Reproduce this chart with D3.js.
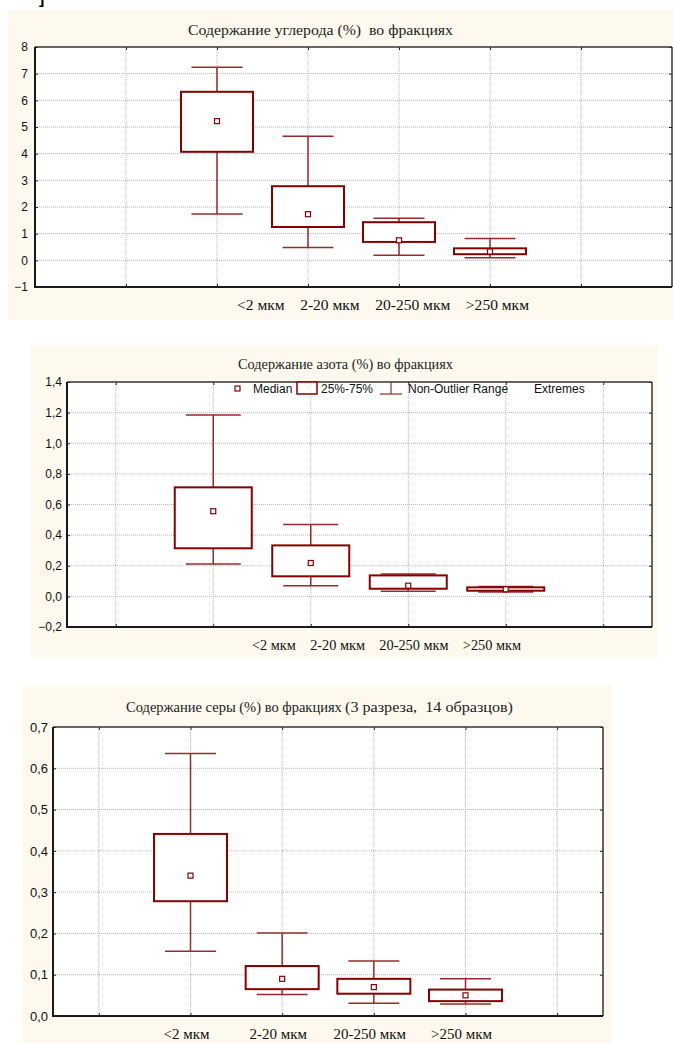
<!DOCTYPE html>
<html>
<head>
<meta charset="utf-8">
<script src="https://cdn.jsdelivr.net/npm/d3@7"></script>
<style>
  body { margin: 0; background: #fff; }
  text { white-space: pre; }
</style>
</head>
<body>
<script>
// fractions on the x axis
const categories = ["<2 мкм", "2-20 мкм", "20-250 мкм", ">250 мкм"];

// each row: low whisker, 25%, median, 75%, high whisker
const carbonStats = [
  [1.74, 4.07, 5.22, 6.32, 7.24],
  [0.48, 1.25, 1.73, 2.78, 4.65],
  [0.19, 0.69, 0.75, 1.43, 1.58],
  [0.10, 0.23, 0.33, 0.45, 0.82]
];
const nitrogenStats = [
  [0.212, 0.314, 0.556, 0.712, 1.185],
  [0.070, 0.131, 0.218, 0.333, 0.469],
  [0.033, 0.050, 0.070, 0.137, 0.146],
  [0.029, 0.037, 0.046, 0.059, 0.065]
];
const sulfurStats = [
  [0.157, 0.278, 0.340, 0.441, 0.636],
  [0.052, 0.065, 0.090, 0.121, 0.201],
  [0.031, 0.054, 0.070, 0.090, 0.133],
  [0.029, 0.036, 0.050, 0.064, 0.090]
];

const carbonTicks = [-1, 0, 1, 2, 3, 4, 5, 6, 7, 8];
const nitrogenTicks = [-0.2, 0, 0.2, 0.4, 0.6, 0.8, 1.0, 1.2, 1.4];
const sulfurTicks = [0, 0.1, 0.2, 0.3, 0.4, 0.5, 0.6, 0.7];

const legendItems = ["Median", "25%-75%", "Non-Outlier Range", "Extremes"];

const boxColor = "#860000";
const whiskColor = "#9a2a2a";
const panelColor = "#fdf9ee";
const serif = "Liberation Serif, Times New Roman";
const sans = "Liberation Sans, Arial";

const svg = d3.select("body").append("svg")
  .attr("width", 673)
  .attr("height", 1043);

// the cut off bracket at the very top
svg.append("text").attr("x", 39).attr("y", 4)
  .attr("font-family", sans).attr("font-size", 16).attr("font-weight", "bold")
  .text("]");

let commaFmt = function (digits) {
  let f = d3.format("." + digits + "f");
  return function (d) { return f(d).replace(".", ","); };
};

function drawBoxChart(o) {
  let g = svg.append("g");

  g.append("rect")
    .attr("x", o.panel[0]).attr("y", o.panel[1])
    .attr("width", o.panel[2]).attr("height", o.panel[3])
    .attr("fill", panelColor);

  let y = d3.scaleLinear()
    .domain([o.ticks[0], o.ticks[o.ticks.length - 1]])
    .range([o.bottom, o.top]);
  let x = d3.scaleLinear().domain(o.xDomain).range([o.left, o.right]);
  let gridX = d3.range(1, 7);

  g.append("rect")
    .attr("x", o.left).attr("y", o.top)
    .attr("width", o.right - o.left).attr("height", o.bottom - o.top)
    .attr("fill", "#fff");

  // dotted grid
  g.selectAll(".hgrid").data(o.ticks.slice(1, -1)).enter().append("line")
    .attr("class", "hgrid")
    .attr("x1", o.left).attr("x2", o.right)
    .attr("y1", d => y(d)).attr("y2", d => y(d))
    .attr("stroke", "#b8b8b8").attr("stroke-dasharray", "1,1");
  g.selectAll(".vgrid").data(gridX).enter().append("line")
    .attr("class", "vgrid")
    .attr("x1", d => x(d)).attr("x2", d => x(d))
    .attr("y1", o.top).attr("y2", o.bottom)
    .attr("stroke", "#b8b8b8").attr("stroke-dasharray", "1,1");

  // axes with small inward ticks
  let yAxis = d3.axisLeft(y).tickValues(o.ticks).tickSize(-3).tickPadding(o.pad).tickFormat(o.fmt);
  let ya = g.append("g").attr("transform", "translate(" + o.left + ",0)").call(yAxis);
  ya.select(".domain").remove();
  ya.selectAll("text").attr("font-family", sans).attr("font-size", o.tickSize).attr("fill", "#111");
  ya.selectAll("line").attr("stroke", "#222");

  let xa = g.append("g").attr("transform", "translate(0," + o.bottom + ")")
    .call(d3.axisBottom(x).tickValues(gridX).tickSize(-3).tickFormat(""));
  xa.select(".domain").remove();
  xa.selectAll("line").attr("stroke", "#222");

  let ra = g.append("g").attr("transform", "translate(" + o.right + ",0)")
    .call(d3.axisRight(y).tickValues(o.ticks).tickSize(-3).tickFormat(""));
  ra.select(".domain").remove();
  ra.selectAll("line").attr("stroke", "#222");

  let ta = g.append("g").attr("transform", "translate(0," + o.top + ")")
    .call(d3.axisTop(x).tickValues(gridX).tickSize(-3).tickFormat(""));
  ta.select(".domain").remove();
  ta.selectAll("line").attr("stroke", "#222");

  // frame: heavy left and bottom
  g.append("line").attr("x1", o.left).attr("x2", o.right).attr("y1", o.top).attr("y2", o.top)
    .attr("stroke", "#333").attr("stroke-width", 1.5);
  g.append("line").attr("x1", o.right).attr("x2", o.right).attr("y1", o.top).attr("y2", o.bottom)
    .attr("stroke", "#333").attr("stroke-width", 1.5);
  g.append("line").attr("x1", o.left).attr("x2", o.left).attr("y1", o.top).attr("y2", o.bottom + 1)
    .attr("stroke", "#1a1a1a").attr("stroke-width", 2);
  g.append("line").attr("x1", o.left).attr("x2", o.right).attr("y1", o.bottom).attr("y2", o.bottom)
    .attr("stroke", "#1a1a1a").attr("stroke-width", 2);

  // boxes
  let boxes = g.selectAll(".box").data(o.stats).enter().append("g").attr("class", "box");
  let cx = (d, i) => x(i + 2);

  boxes.append("line")
    .attr("x1", cx).attr("x2", cx)
    .attr("y1", d => y(d[0])).attr("y2", d => y(d[4]))
    .attr("stroke", whiskColor).attr("stroke-width", 1.5);
  boxes.append("line")
    .attr("x1", (d, i) => cx(d, i) - o.capW / 2).attr("x2", (d, i) => cx(d, i) + o.capW / 2)
    .attr("y1", d => y(d[4])).attr("y2", d => y(d[4]))
    .attr("stroke", whiskColor).attr("stroke-width", 1.5);
  boxes.append("line")
    .attr("x1", (d, i) => cx(d, i) - o.capW / 2).attr("x2", (d, i) => cx(d, i) + o.capW / 2)
    .attr("y1", d => y(d[0])).attr("y2", d => y(d[0]))
    .attr("stroke", whiskColor).attr("stroke-width", 1.5);
  boxes.append("rect")
    .attr("x", (d, i) => cx(d, i) - o.boxW / 2)
    .attr("y", d => y(d[3]))
    .attr("width", o.boxW)
    .attr("height", d => y(d[1]) - y(d[3]))
    .attr("fill", "#fff").attr("stroke", boxColor).attr("stroke-width", 2);
  boxes.append("rect")
    .attr("x", (d, i) => cx(d, i) - 2.5)
    .attr("y", d => y(d[2]) - 2.5)
    .attr("width", 5).attr("height", 5)
    .attr("fill", "#fff").attr("stroke", boxColor).attr("stroke-width", 1.2);

  return { g: g, x: x, y: y };
}

// ---- chart 1: carbon
let c1 = drawBoxChart({
  stats: carbonStats, ticks: carbonTicks, fmt: d3.format("d"), tickSize: 12, pad: 7,
  panel: [8, 10, 665, 310], left: 35, right: 672, top: 47, bottom: 287,
  xDomain: [0, 7], boxW: 72, capW: 51
});
c1.g.append("text").attr("x", 188).attr("y", 35)
  .attr("font-family", serif).attr("font-size", 15).attr("fill", "#222")
  .attr("textLength", 265).attr("lengthAdjust", "spacingAndGlyphs")
  .text("Содержание углерода (%)  во фракциях");
c1.g.append("text").attr("x", 237).attr("y", 310)
  .attr("font-family", serif).attr("font-size", 15).attr("fill", "#111")
  .attr("textLength", 292).attr("lengthAdjust", "spacingAndGlyphs")
  .text(categories.join("    "));

// ---- chart 2: nitrogen
let c2 = drawBoxChart({
  stats: nitrogenStats, ticks: nitrogenTicks, fmt: commaFmt(1), tickSize: 12, pad: 5,
  panel: [31, 345, 627, 312], left: 67, right: 652, top: 382, bottom: 627,
  xDomain: [0.5, 6.5], boxW: 77, capW: 55
});
c2.g.append("text").attr("x", 238).attr("y", 369)
  .attr("font-family", serif).attr("font-size", 14).attr("fill", "#222")
  .attr("textLength", 215).attr("lengthAdjust", "spacingAndGlyphs")
  .text("Содержание азота (%) во фракциях");
c2.g.append("text").attr("x", 252).attr("y", 650)
  .attr("font-family", serif).attr("font-size", 14).attr("fill", "#111")
  .attr("textLength", 269).attr("lengthAdjust", "spacingAndGlyphs")
  .text(categories.join("    "));

// legend inside the plot
let lg = c2.g.append("g").attr("font-family", sans).attr("font-size", 12).attr("fill", "#111");
lg.append("rect").attr("x", 235).attr("y", 386).attr("width", 5).attr("height", 5)
  .attr("fill", "#fff").attr("stroke", boxColor).attr("stroke-width", 1.2);
lg.append("text").attr("x", 253).attr("y", 393).text(legendItems[0]);
lg.append("rect").attr("x", 297).attr("y", 382).attr("width", 20).attr("height", 12)
  .attr("fill", "#fff").attr("stroke", boxColor).attr("stroke-width", 1.5);
lg.append("text").attr("x", 321).attr("y", 393).text(legendItems[1]);
lg.append("line").attr("x1", 380).attr("x2", 402).attr("y1", 394).attr("y2", 394).attr("stroke", whiskColor).attr("stroke-width", 1.2);
lg.append("line").attr("x1", 391).attr("x2", 391).attr("y1", 382).attr("y2", 394).attr("stroke", whiskColor).attr("stroke-width", 1.2);
lg.append("text").attr("x", 408).attr("y", 393).text(legendItems[2]);
lg.append("text").attr("x", 534).attr("y", 393).text(legendItems[3]);

// ---- chart 3: sulfur
let c3 = drawBoxChart({
  stats: sulfurStats, ticks: sulfurTicks, fmt: commaFmt(1), tickSize: 13, pad: 5,
  panel: [22, 685, 590, 358], left: 53, right: 603, top: 727, bottom: 1016,
  xDomain: [0.5, 6.5], boxW: 73, capW: 51
});
c3.g.append("text").attr("x", 126).attr("y", 712)
  .attr("font-family", serif).attr("font-size", 14.5).attr("fill", "#222")
  .text("Содержание серы (%) во фракциях");
c3.g.append("text").attr("x", 345).attr("y", 712)
  .attr("font-family", serif).attr("font-size", 14).attr("fill", "#222")
  .attr("textLength", 168).attr("lengthAdjust", "spacingAndGlyphs")
  .text("(3 разреза,  14 образцов)");
c3.g.selectAll(".xlab").data(categories).enter().append("text")
  .attr("class", "xlab")
  .attr("x", (d, i) => c3.x(i + 2) - 4).attr("y", 1039)
  .attr("text-anchor", "middle")
  .attr("font-family", serif).attr("font-size", 15).attr("fill", "#111")
  .text(d => d);
</script>
</body>
</html>
